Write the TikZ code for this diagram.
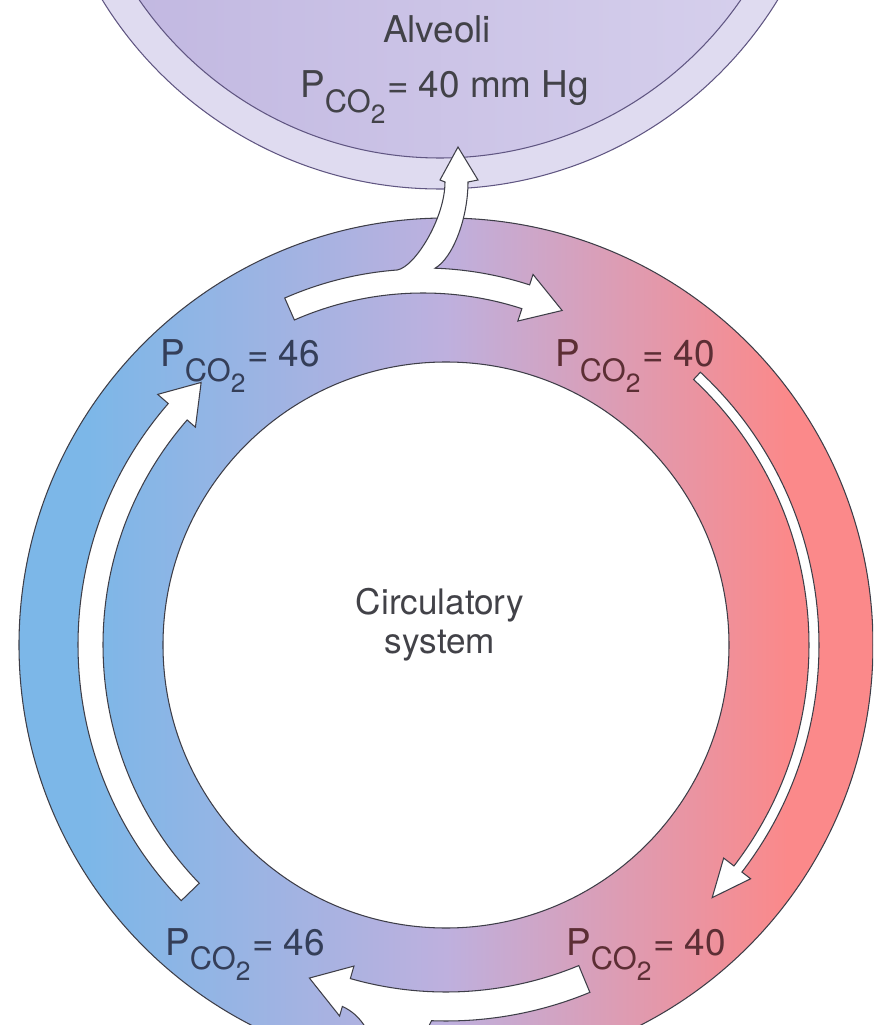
\documentclass[tikz,border=0pt]{standalone}
\usepackage{fontspec}
\setmainfont{TeX Gyre Heros}
\usetikzlibrary{calc}
\definecolor{ringBlue}{RGB}{124,183,232}
\definecolor{ringMid}{RGB}{190,176,222}
\definecolor{ringRed}{RGB}{251,137,138}
\definecolor{alvBand}{RGB}{223,219,240}
\definecolor{alvLeft}{RGB}{192,182,224}
\definecolor{alvRight}{RGB}{215,209,237}
\definecolor{alvLine}{RGB}{96,86,130}
\definecolor{edgeGray}{RGB}{62,62,72}
\definecolor{txtBlue}{RGB}{52,62,88}
\definecolor{txtRed}{RGB}{92,46,52}
\definecolor{txtGray}{RGB}{66,66,72}
\pgfdeclarehorizontalshading{ringshade}{100bp}{color(0bp)=(ringBlue); color(29bp)=(ringBlue); color(50bp)=(ringMid); color(70bp)=(ringRed); color(100bp)=(ringRed)}
\newcommand{\pco}{P\raisebox{-8pt}{\fontsize{17.5}{17.5}\selectfont CO\raisebox{-6.5pt}{\fontsize{15}{15}\selectfont 2}}\hspace{1pt}}

\begin{document}
\begin{tikzpicture}[x=0.02cm,y=0.02cm,
    blockarrow/.style={fill=white, draw=edgeGray, line width=0.6pt, line join=miter},
    lbl/.style={font=\fontsize{21}{23}\selectfont, inner sep=0pt}]
    \useasboundingbox (-446,-380) rectangle (427,645);
    \clip (-446,-380) rectangle (427,645);
    % alveoli
    \fill[alvBand] (-6,852) circle (396);
    \draw[alvLine, line width=0.6pt] (-6,852) circle (396);
    \shade[left color=alvLeft, right color=alvRight] (-6,852) circle (365);
    \draw[alvLine, line width=0.6pt] (-6,852) circle (365);
    % circulation ring
    \shade[shading=ringshade, even odd rule] (0,0) circle (427) (0,0) circle (283);
    \draw[edgeGray, line width=0.6pt] (0,0) circle (427);
    \draw[edgeGray, line width=0.6pt] (0,0) circle (283);
    % top arrow, branch up to the alveoli
    \begin{scope}[shift={(-23,32)}]
    \draw[blockarrow] (113.7:344) arc[start angle=113.7, end angle=94.3, radius=344]
        .. controls (-8,346) and (22,395) .. (22,431)
        -- (17,433) -- (35,466) -- (55,433) -- (45,431)
        .. controls (45,395) and (30,355) .. (88:345)
        arc[start angle=88, end angle=72, radius=345]
        -- (72:356) -- (65.3:333) -- (72:307) -- (72:320)
        arc[start angle=72, end angle=113.7, radius=320] -- cycle;
    \end{scope}
    % right arrow
    \draw[blockarrow] (47:363) arc[start angle=47, end angle=-37.5, radius=363]
        -- (-37.5:350) -- (-43.5:367) -- (-37.5:384) -- (-37.5:373)
        arc[start angle=-37.5, end angle=47, radius=373] -- cycle;
    % left arrow
    \draw[blockarrow] (224:343) arc[start angle=224, end angle=139, radius=343]
        -- (139:332) -- (133:359) -- (139:382) -- (139:368)
        arc[start angle=139, end angle=224, radius=368] -- cycle;
    % bottom arrow, branch from below
    \draw[blockarrow] (292.5:347) arc[start angle=292.5, end angle=254, radius=347]
        -- (254:334) -- (247.7:360) -- (254:386) -- (254:376)
        .. controls (-85,-370) and (-72,-388) .. (-66,-430)
        -- (-28,-430) .. controls (-24,-395) and (-18,-382) .. (267.8:376)
        arc[start angle=267.8, end angle=292.5, radius=376] -- cycle;
    % labels
    \node[lbl, text=txtGray, anchor=base] (alv) at (-9,602) {Alveoli};
    \node[lbl, text=txtGray, anchor=base west] (alvp) at (-146,547) {\pco= 40 mm Hg};
    \node[lbl, text=txtBlue, anchor=base west] (tl) at (-286,278) {\pco= 46};
    \node[lbl, text=txtRed, anchor=base west] (tr) at (109,278) {\pco= 40};
    \node[lbl, text=txtBlue, anchor=base west] (bl) at (-281,-310) {\pco= 46};
    \node[lbl, text=txtRed, anchor=base west] (br) at (120,-310) {\pco= 40};
    \node[lbl, font=\fontsize{20}{22}\selectfont, text=txtGray, align=center] (circ) at (-6,20) {Circulatory\\system};
\end{tikzpicture}
\end{document}
